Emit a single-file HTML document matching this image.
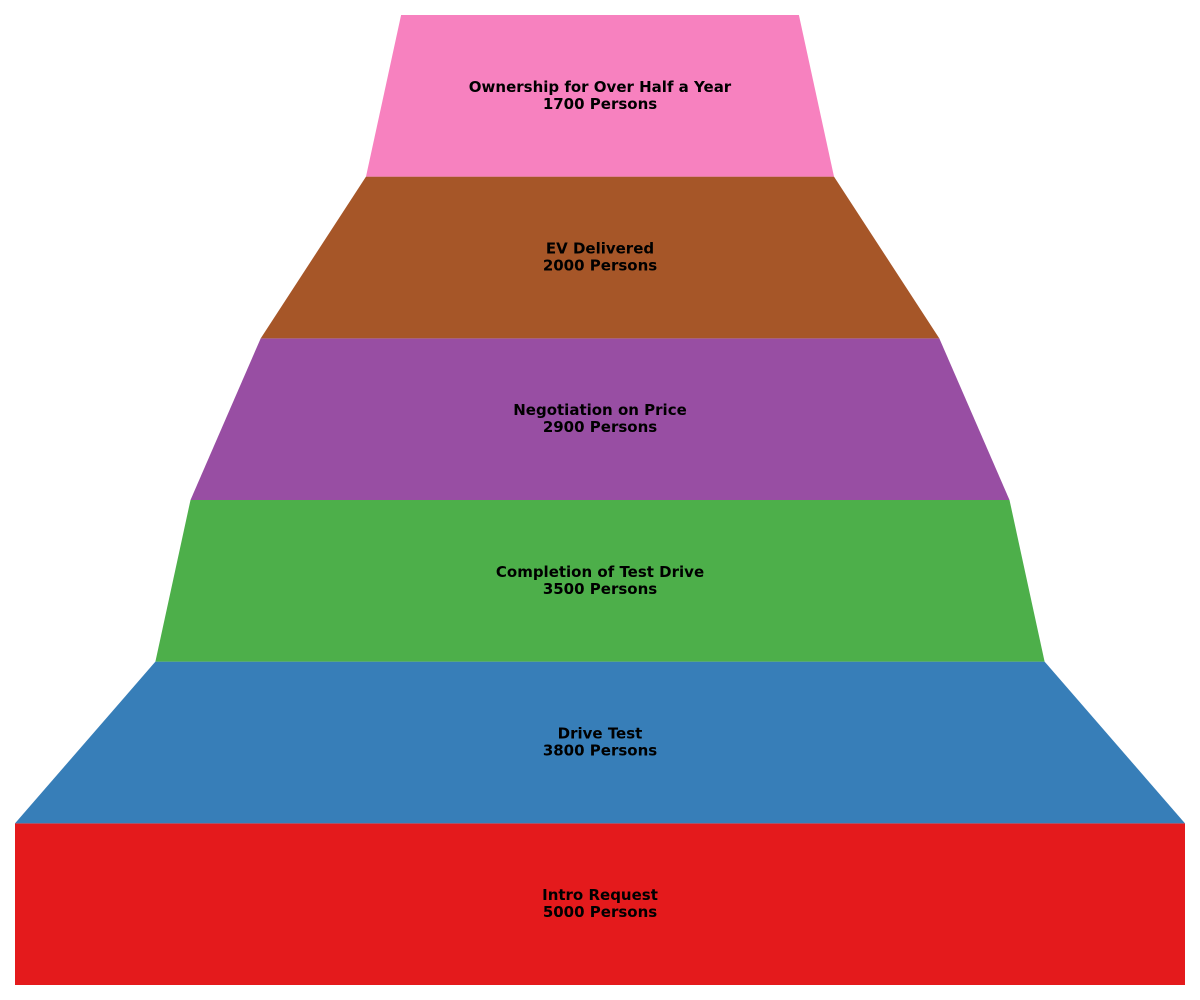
<!DOCTYPE html>
<html><head><meta charset="utf-8"><style>
html,body{margin:0;padding:0;background:#fff;}
svg{display:block;}
text{font-family:"DejaVu Sans","Liberation Sans",sans-serif;font-weight:bold;font-size:15px;fill:#000;}
</style></head><body>
<svg id="chart" width="1200" height="1000"></svg>
<script>
const stages = ["Intro Request","Drive Test","Completion of Test Drive","Negotiation on Price","EV Delivered","Ownership for Over Half a Year"];
const values = [5000,3800,3500,2900,2000,1700];
const colors = ["#e41a1c","#377eb8","#4daf4a","#984ea3","#a65628","#f781bf"];
const svgEl = document.getElementById('chart');
const NS = "http://www.w3.org/2000/svg";
const leftX = 15, rightX = 1185, topY = 15, bottomY = 985;
const cx = (leftX + rightX) / 2;
const maxV = Math.max(...values);
const scaleW = (rightX - leftX) / maxV;
const layerH = (bottomY - topY) / values.length;
for (let i = 0; i < values.length; i++) {
  const yb = bottomY - i * layerH, yt = yb - layerH;
  const wb = (i === 0 ? values[0] : values[i - 1]) * scaleW / 2;
  const wt = values[i] * scaleW / 2;
  const p = document.createElementNS(NS, 'polygon');
  p.setAttribute('points', `${cx - wb},${yb} ${cx + wb},${yb} ${cx + wt},${yt} ${cx - wt},${yt}`);
  p.setAttribute('fill', colors[i]);
  
  
  svgEl.appendChild(p);
  const ym = (yt + yb) / 2;
  const t1 = document.createElementNS(NS, 'text');
  t1.setAttribute('x', cx); t1.setAttribute('y', ym - 4);
  t1.setAttribute('text-anchor', 'middle');
  t1.textContent = stages[i];
  
  
  svgEl.appendChild(t1);
  const t2 = document.createElementNS(NS, 'text');
  t2.setAttribute('x', cx); t2.setAttribute('y', ym + 13);
  t2.setAttribute('text-anchor', 'middle');
  t2.textContent = values[i] + " Persons";
  
  
  svgEl.appendChild(t2);
}
</script>
</body></html>
